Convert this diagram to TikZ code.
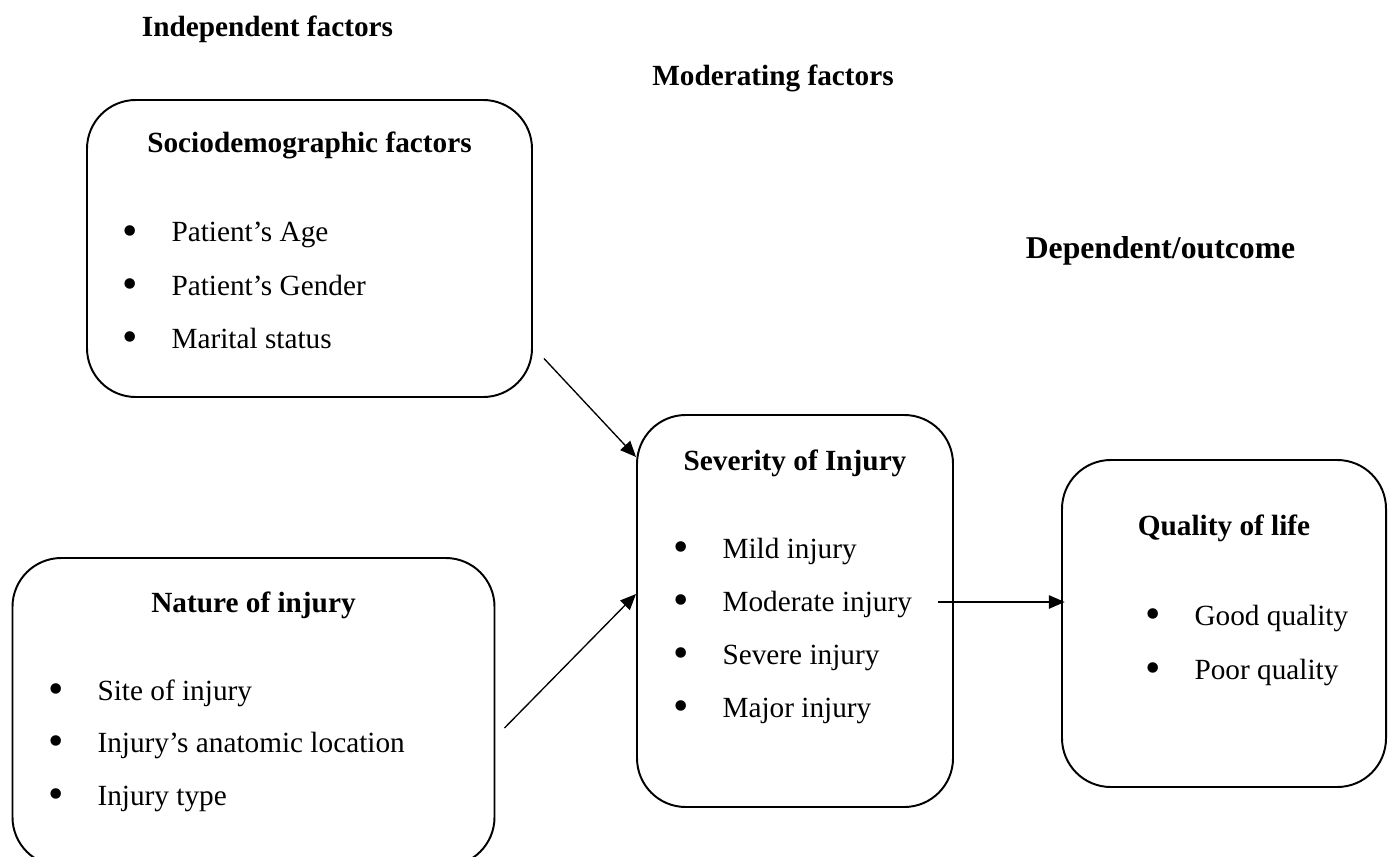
\documentclass[tikz,border=0pt]{standalone}
\usepackage{fontspec}
\setmainfont{Liberation Serif}
\usetikzlibrary{arrows.meta,positioning}

\tikzset{
  roundbox/.style 2 args={draw, line width=0.8pt, rounded corners=20pt, inner sep=0pt,
    minimum width=#1*0.41pt, minimum height=#2*0.41pt},
  title/.style={font=\bfseries, anchor=base, inner sep=0pt},
  item/.style={anchor=base west, inner sep=0pt},
  flow/.style={line width=0.55pt, -{Triangle[length=6.5pt,width=5.5pt]}}
}
\newcommand{\bitem}[1]{\makebox[19.7pt][l]{\hspace{-0.6pt}\raisebox{-1.3pt}{\fontsize{18}{18}\selectfont\textbullet}}#1}

\begin{document}
\fontsize{12}{14.4}\selectfont
\begin{tikzpicture}[x=0.41pt, y=-0.41pt]
    \useasboundingbox (0,0) rectangle (1391,856);
    \clip (0,0) rectangle (1391,856);

    % column headings
    \node[title] (indep) at (267.5,37) {Independent factors};
    \node[title] (moder) at (773,86) {Moderating factors};
    \node[title, font=\fontsize{13}{15.6}\selectfont\bfseries] (depen) at (1160.5,258) {Dependent/outcome};

    % boxes
    \node[roundbox={445}{297}] (socio) at (309.5,248.5) {};
    \node[roundbox={482}{308}] (nature) at (253.5,712) {};
    \node[roundbox={316}{392}] (sev) at (795,611) {};
    \node[roundbox={324}{327}] (qol) at (1224,623.5) {};

    % box titles
    \node[title] (socio-t) at (309.5,153) {Sociodemographic factors};
    \node[title] (nature-t) at (253.5,612) {Nature of injury};
    \node[title] (sev-t) at (795,470) {Severity of Injury};
    \node[title] (qol-t) at (1224,535) {Quality of life};

    % bullet lists
    \foreach \t [count=\i] in {Patient’s Age, Patient’s Gender, Marital status}
      \node[item] (socio-\i) at (123,{242+53*(\i-1)}) {\bitem{\t}};
    \foreach \t [count=\i] in {Site of injury, Injury’s anatomic location, Injury type}
      \node[item] (nature-\i) at (49,{700+52.5*(\i-1)}) {\bitem{\t}};
    \foreach \t [count=\i] in {Mild injury, Moderate injury, Severe injury, Major injury}
      \node[item] (sev-\i) at (674,{558+53*(\i-1)}) {\bitem{\t}};
    \foreach \t [count=\i] in {Good quality, Poor quality}
      \node[item] (qol-\i) at (1146,{625+54*(\i-1)}) {\bitem{\t}};

    % arrows
    \coordinate (socio-out) at ([shift={(11,110)}]socio.east);
    \coordinate (sev-in1) at ([shift={(0,-154)}]sev.west);
    \coordinate (nature-out) at ([shift={(9,16)}]nature.east);
    \coordinate (sev-in2) at ([shift={(0,-17)}]sev.west);
    \coordinate (sev-out) at (938,602);
    \draw[flow] (socio-out) -- (sev-in1);
    \draw[flow] (nature-out) -- (sev-in2);
    \draw[flow, shorten >=-1.5pt] (sev-out) -- (sev-out -| qol.west);
\end{tikzpicture}
\end{document}
